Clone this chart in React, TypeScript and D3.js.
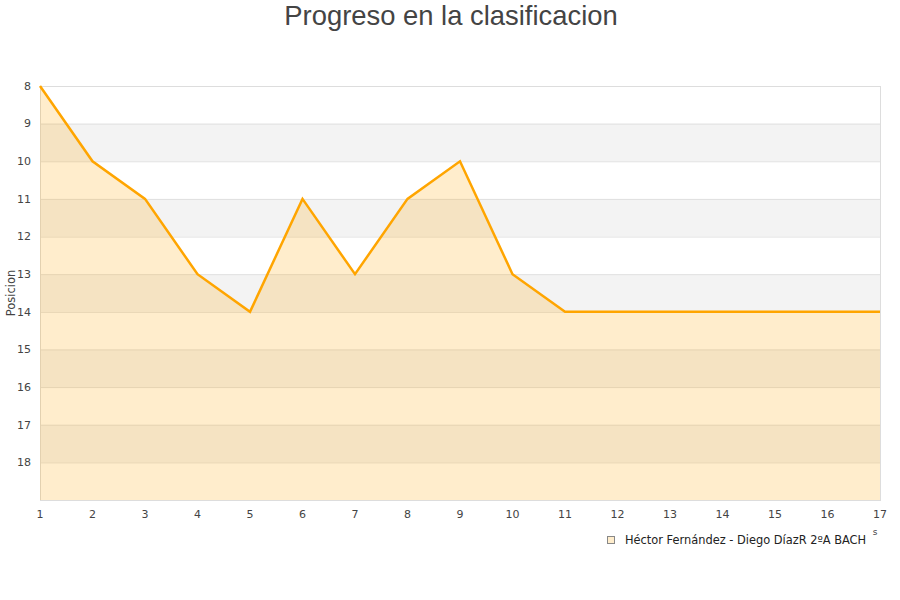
import * as d3 from "d3";
import { useEffect, useRef } from "react";

const jornadas = [1, 2, 3, 4, 5, 6, 7, 8, 9, 10, 11, 12, 13, 14, 15, 16, 17];
const posiciones = [8, 10, 11, 13, 14, 11, 13, 11, 10, 13, 14, 14, 14, 14, 14, 14, 14];
const yTicks = [8, 9, 10, 11, 12, 13, 14, 15, 16, 17, 18];
const serieNombre = "Héctor Fernández - Diego DíazR 2ºA BACH";
const titulo = "Progreso en la clasificacion";

export default function App() {
  const ref = useRef<SVGSVGElement | null>(null);

  useEffect(() => {
    if (!ref.current) return;
    const svg = d3.select(ref.current);
    svg.selectAll("*").remove();

    const width = 900;
    const height = 600;
    const margin = { top: 86, right: 20, bottom: 100, left: 40 };
    const plotW = width - margin.left - margin.right;
    const plotH = height - margin.top - margin.bottom;
    const font = "DejaVu Sans, sans-serif";

    const x = d3.scaleLinear().domain([1, 17]).range([0, plotW]);
    const y = d3.scaleLinear().domain([8, 19]).range([0, plotH]);

    svg.append("rect").attr("width", width).attr("height", height).attr("fill", "#fff");

    svg.append("text")
      .attr("x", width / 2 + 1)
      .attr("y", 25)
      .attr("text-anchor", "middle")
      .attr("font-family", "Liberation Sans, Arial, sans-serif")
      .attr("font-size", 27.4)
      .attr("fill", "#444")
      .text(titulo);

    const g = svg.append("g").attr("transform", `translate(${margin.left},${margin.top})`);

    // alternating bands
    d3.range(8, 19).forEach((v) => {
      g.append("rect")
        .attr("x", 0)
        .attr("y", y(v))
        .attr("width", plotW)
        .attr("height", y(v + 1) - y(v))
        .attr("fill", (v - 8) % 2 === 1 ? "#f3f3f3" : "#ffffff");
    });

    // grid lines
    g.selectAll("line.grid")
      .data(d3.range(8, 20))
      .join("line")
      .attr("x1", 0)
      .attr("x2", plotW)
      .attr("y1", (d) => y(d) + 0.5)
      .attr("y2", (d) => y(d) + 0.5)
      .attr("stroke", "#e0e0e0")
      .attr("stroke-width", 1);

    // plot border
    g.append("rect")
      .attr("x", 0.5)
      .attr("y", 0.5)
      .attr("width", plotW)
      .attr("height", plotH)
      .attr("fill", "none")
      .attr("stroke", "#dddddd");

    const pts = jornadas.map((j, i) => ({ x: j, y: posiciones[i] }));

    const area = d3.area<{ x: number; y: number }>()
      .x((d) => x(d.x))
      .y0(plotH)
      .y1((d) => y(d.y));

    g.append("path")
      .datum(pts)
      .attr("d", area)
      .attr("fill", "orange")
      .attr("fill-opacity", 0.2);

    const line = d3.line<{ x: number; y: number }>()
      .x((d) => x(d.x))
      .y((d) => y(d.y));

    g.append("path")
      .datum(pts)
      .attr("d", line)
      .attr("fill", "none")
      .attr("stroke", "#ffa500")
      .attr("stroke-width", 2.5);

    // y ticks
    g.selectAll("text.ytick")
      .data(yTicks)
      .join("text")
      .attr("x", -9)
      .attr("y", (d) => y(d))
      .attr("dy", "0.35em")
      .attr("text-anchor", "end")
      .attr("font-family", font)
      .attr("font-size", 11)
      .attr("fill", "#444")
      .text((d) => d);

    // x ticks
    g.selectAll("text.xtick")
      .data(jornadas)
      .join("text")
      .attr("x", (d) => x(d))
      .attr("y", plotH + 18)
      .attr("text-anchor", "middle")
      .attr("font-family", font)
      .attr("font-size", 11)
      .attr("fill", "#444")
      .text((d) => d);

    // y axis title
    svg.append("text")
      .attr("transform", `translate(15,293) rotate(-90)`)
      .attr("text-anchor", "middle")
      .attr("font-family", font)
      .attr("font-size", 11.5)
      .attr("fill", "#444")
      .text("Posicion");

    // clipped axis title remnant
    svg.append("text")
      .attr("x", 875)
      .attr("y", 535)
      .attr("text-anchor", "middle")
      .attr("font-family", font)
      .attr("font-size", 9)
      .attr("fill", "#444")
      .text("s");

    // legend
    const lg = svg.append("g").attr("transform", "translate(607,536)");
    lg.append("rect")
      .attr("x", 0.5)
      .attr("y", 0.5)
      .attr("width", 7)
      .attr("height", 7)
      .attr("fill", "#ffedcc")
      .attr("stroke", "#888")
      .attr("stroke-width", 1);
    lg.append("text")
      .attr("x", 18)
      .attr("y", 4)
      .attr("dy", "0.35em")
      .attr("font-family", font)
      .attr("font-size", 11.4)
      .attr("fill", "#222")
      .text(serieNombre);
  }, []);

  return (
    <svg
      ref={ref}
      width={900}
      height={600}
      style={{ position: "absolute", left: 0, top: 0 }}
    ></svg>
  );
}
